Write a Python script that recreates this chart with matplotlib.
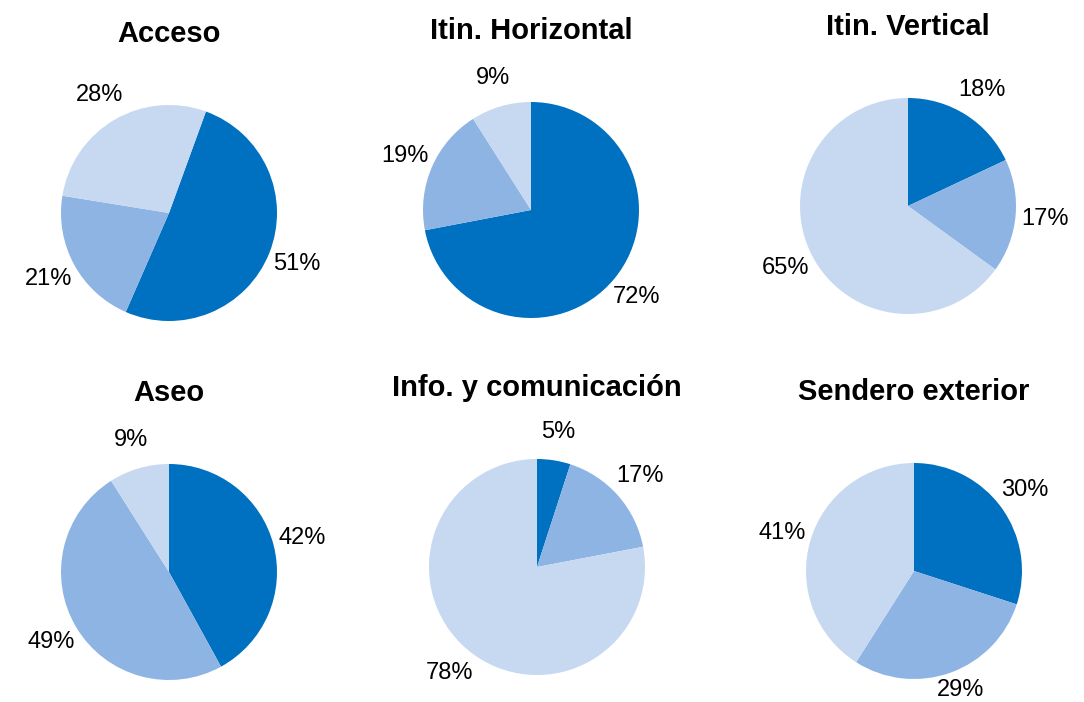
import matplotlib
matplotlib.use("Agg")
import matplotlib.pyplot as plt

plt.rcParams['font.family'] = ['Liberation Sans', 'DejaVu Sans']

titles = ["Acceso", "Itin. Horizontal", "Itin. Vertical",
          "Aseo", "Info. y comunicación", "Sendero exterior"]
dark = [51, 72, 18, 42, 5, 30]
medium = [21, 19, 17, 49, 17, 29]
light = [28, 9, 65, 9, 78, 41]
start_angles = [70, 90, 90, 90, 90, 90]

colors = ["#0070C0", "#8EB4E3", "#C6D9F1"]

# pie centres in pixels (from top-left) and radius
centers = [(169, 213), (531, 210), (908, 206),
           (169, 572), (537, 567), (914, 571)]
R = 108
W, H = 1084, 702
half = 1.6

fig = plt.figure(figsize=(W / 100, H / 100), dpi=100)

for i in range(6):
    cx, cy = centers[i]
    s = R * half
    ax = fig.add_axes([(cx - s) / W, (H - cy - s) / H, 2 * s / W, 2 * s / H])
    vals = [dark[i], medium[i], light[i]]
    wedges, texts, autotexts = ax.pie(
        vals, colors=colors, startangle=start_angles[i], counterclock=False,
        autopct=lambda p: "%d%%" % round(p), pctdistance=1.27,
        wedgeprops=dict(linewidth=0),
        textprops=dict(fontsize=17, color="black"))
    # keep labels inside the figure
    ymin = -(H - cy - 12) / R
    for t in autotexts:
        x, y = t.get_position()
        if y < ymin:
            t.set_position((x, ymin))
    ax.set_xlim(-half, half)
    ax.set_ylim(-half, half)
    ax.set_aspect("equal")
    ax.axis("off")
    ax.text(0, 1 + 71 / R, titles[i], ha="center", va="center",
            fontsize=21, fontweight="bold", clip_on=False)

fig.savefig("out.png", dpi=100)
